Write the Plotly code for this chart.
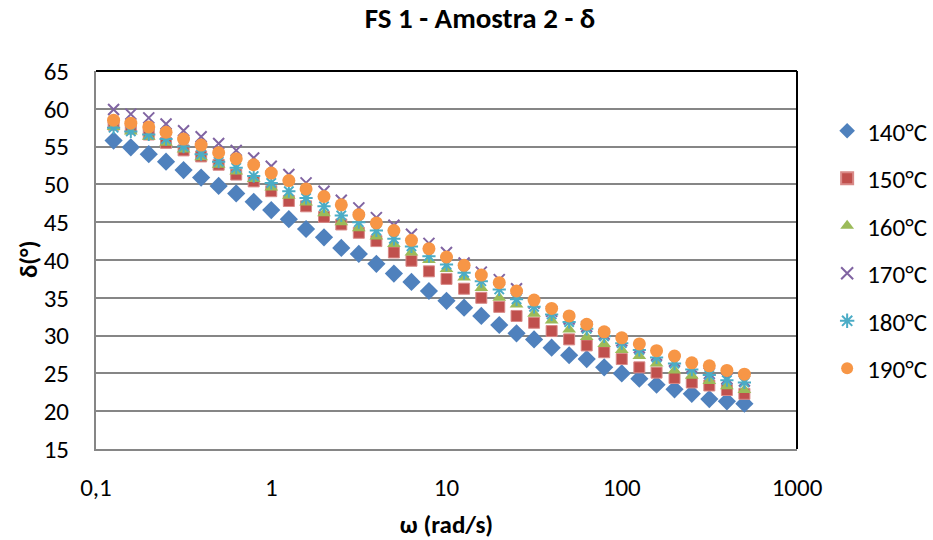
import plotly.graph_objects as go

# angular frequency (rad/s), 10 points per decade
omega = [0.126, 0.158, 0.2, 0.251, 0.316, 0.398, 0.501, 0.631, 0.794, 1.0,
         1.26, 1.58, 2.0, 2.51, 3.16, 3.98, 5.01, 6.31, 7.94, 10.0,
         12.6, 15.8, 20.0, 25.1, 31.6, 39.8, 50.1, 63.1, 79.4, 100.0,
         126, 158, 200, 251, 316, 398, 501]

d140 = [55.8, 54.9, 54.0, 53.0, 51.9, 50.9, 49.8, 48.8, 47.7, 46.6,
        45.4, 44.1, 43.0, 41.6, 40.8, 39.5, 38.2, 37.1, 35.9, 34.6,
        33.7, 32.6, 31.4, 30.3, 29.5, 28.4, 27.4, 26.9, 25.8, 25.0,
        24.3, 23.5, 22.9, 22.3, 21.6, 21.3, 21.0]
d150 = [57.9, 57.4, 56.6, 55.5, 54.5, 53.7, 52.6, 51.3, 50.4, 49.1,
        47.8, 47.1, 45.7, 44.7, 43.6, 42.5, 41.0, 39.9, 38.5, 37.5,
        36.2, 35.0, 33.8, 32.6, 31.7, 30.6, 29.5, 28.7, 27.8, 26.9,
        25.8, 25.1, 24.4, 23.8, 23.4, 22.8, 22.3]
d160 = [57.6, 57.0, 56.3, 55.5, 54.6, 53.6, 52.6, 51.7, 50.7, 49.6,
        48.5, 47.6, 46.2, 45.0, 44.2, 43.1, 42.1, 41.0, 40.0, 38.8,
        37.7, 36.3, 35.0, 34.1, 32.9, 32.0, 30.8, 29.8, 28.9, 28.1,
        27.3, 26.3, 25.4, 24.7, 24.0, 23.3, 22.8]
d170 = [59.9, 59.3, 58.8, 58.0, 57.1, 56.3, 55.4, 54.5, 53.5, 52.4,
        51.3, 50.2, 49.1, 47.9, 46.9, 45.6, 44.6, 43.4, 42.2, 41.0,
        39.6, 38.4, 37.4, 36.2, 34.3, 33.2, 32.2, 31.2, 30.2, 29.3,
        28.4, 27.4, 26.6, 25.8, 25.0, 24.3, 24.0]
d180 = [57.5, 57.0, 56.6, 56.0, 55.0, 54.0, 53.0, 52.2, 51.1, 50.2,
        49.1, 48.2, 47.1, 45.9, 45.0, 43.9, 42.8, 41.8, 40.5, 39.4,
        38.3, 37.2, 36.1, 34.8, 33.8, 32.8, 31.8, 30.9, 29.9, 29.0,
        28.1, 27.1, 26.3, 25.5, 24.8, 24.1, 23.8]
d190 = [58.5, 58.1, 57.6, 56.9, 56.0, 55.2, 54.2, 53.4, 52.6, 51.5,
        50.5, 49.4, 48.4, 47.3, 46.0, 44.9, 43.9, 42.6, 41.5, 40.4,
        39.3, 38.0, 37.0, 35.9, 34.7, 33.6, 32.6, 31.5, 30.5, 29.7,
        28.9, 28.0, 27.3, 26.4, 26.0, 25.4, 24.9]

names = ["140°C", "150°C", "160°C", "170°C", "180°C", "190°C"]
x_ticks = [0.1, 1, 10, 100, 1000]
x_ticktext = ["0,1", "1", "10", "100", "1000"]

FONT = "Carlito, Calibri, Lato, sans-serif"

styles = [
    dict(symbol="diamond", size=14, color="#4F81BD", line=dict(width=0)),
    dict(symbol="square", size=11, color="#C0504D", line=dict(width=1, color="#D98A88")),
    dict(symbol="triangle-up", size=12, color="#9BBB59", line=dict(width=0)),
    dict(symbol="x-thin-open", size=11, color="#8064A2", line=dict(width=2, color="#8064A2")),
    dict(symbol="asterisk-open", size=11, color="#4BACC6", line=dict(width=2, color="#4BACC6")),
    dict(symbol="circle", size=13, color="#F79646", line=dict(width=0)),
]

fig = go.Figure()
for i, (nm, ys) in enumerate(zip(names, [d140, d150, d160, d170, d180, d190])):
    fig.add_trace(go.Scatter(x=omega, y=ys, mode="markers", name=nm,
                             marker=styles[i], legendgroup=nm))

fig.update_layout(
    width=933, height=540,
    margin=dict(l=96, r=136, t=71, b=91, autoexpand=False),
    paper_bgcolor="white", plot_bgcolor="white",
    font=dict(family=FONT, size=25, color="black"),
    title=dict(text="<b>FS 1 - Amostra 2 - δ</b>", x=0.5145, xanchor="center",
               xref="container", yref="container",
               y=1 - 8 / 540, yanchor="top", font=dict(size=29)),
    legend=dict(x=1.043, xanchor="left", y=0.902, yanchor="top",
                tracegroupgap=12, font=dict(size=25), itemsizing="constant",
                bgcolor="rgba(0,0,0,0)"),
    showlegend=True,
)
fig.update_xaxes(type="log", range=[-1, 3], tickvals=x_ticks, ticktext=x_ticktext,
                 showgrid=False, showline=True, linecolor="#868686", linewidth=2,
                 ticks="", ticklabelstandoff=15, zeroline=False, automargin=False,
                 title=dict(text="<b>ω (rad/s)</b>", standoff=13, font=dict(size=25)))
fig.update_yaxes(range=[15, 65], dtick=5, showgrid=True, gridcolor="#868686", gridwidth=2,
                 showline=True, linecolor="#868686", linewidth=2, ticks="",
                 ticklabelstandoff=20, zeroline=False, automargin=False)
fig.add_annotation(text="<b>δ(°)</b>", xref="paper", yref="paper",
                   x=(28 - 96) / 701, y=0.5, xanchor="center", yanchor="middle",
                   textangle=-90, showarrow=False, font=dict(size=25))
# black border on top and right of the plot area
fig.add_shape(type="line", xref="paper", yref="paper", x0=0, x1=1, y0=1, y1=1,
              line=dict(color="black", width=2))
fig.add_shape(type="line", xref="paper", yref="paper", x0=1, x1=1, y0=0, y1=1,
              line=dict(color="black", width=2))

fig.write_html("out.html", config={"displayModeBar": False},
               post_script="document.body.style.margin='0';")
